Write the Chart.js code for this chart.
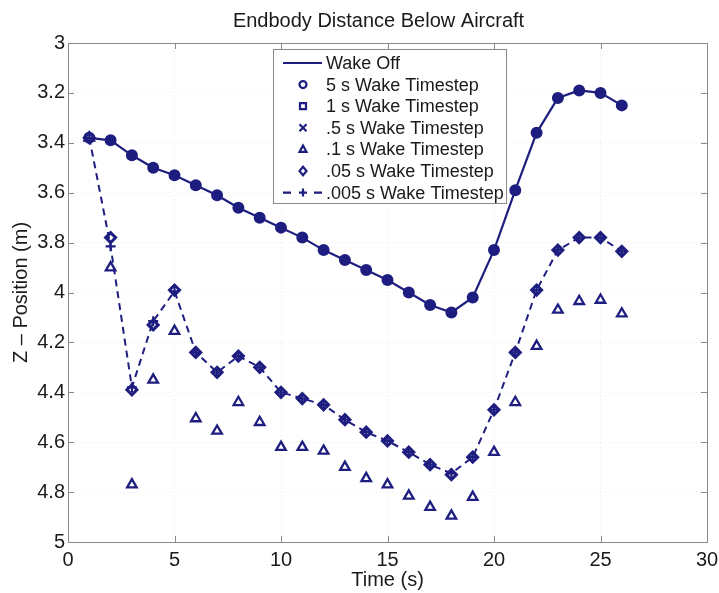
<!DOCTYPE html>
<html>
<head>
<meta charset="utf-8">
<script src="https://cdn.jsdelivr.net/npm/chart.js@4/dist/chart.umd.min.js"></script>
<style>
  html, body { margin: 0; padding: 0; background: #fff; }
  #wrap { width: 719px; height: 593px; }
</style>
</head>
<body>
<div id="wrap"><canvas id="chart" width="719" height="593"></canvas></div>
<script>
// time steps (s)
const timeS = [1, 2, 3, 4, 5, 6, 7, 8, 9, 10, 11, 12, 13, 14, 15, 16, 17, 18, 19, 20, 21, 22, 23, 24, 25, 26];

// Z position (m)
// Wake Off; the 5 s / 1 s / .5 s markers sit on this same curve
const wakeOffZ = [3.38, 3.39, 3.45, 3.50, 3.53, 3.57, 3.61, 3.66, 3.70, 3.74, 3.78, 3.83, 3.87,
                  3.91, 3.95, 4.00, 4.05, 4.08, 4.02, 3.83, 3.59, 3.36, 3.22, 3.19, 3.20, 3.25];
const wake01Z = [3.38, 3.90, 4.77, 4.35, 4.155, 4.505, 4.555, 4.44, 4.52, 4.62, 4.62, 4.635, 4.70,
                 4.745, 4.77, 4.815, 4.86, 4.895, 4.82, 4.64, 4.44, 4.215, 4.07, 4.035, 4.03, 4.085];
const wake005Z = [3.38, 3.78, 4.39, 4.13, 3.99, 4.24, 4.32, 4.255, 4.30, 4.40, 4.425, 4.45, 4.51,
                  4.56, 4.595, 4.64, 4.69, 4.73, 4.66, 4.47, 4.24, 3.99, 3.83, 3.78, 3.78, 3.835];
const wake0005Z = [3.38, 3.815, 4.38, 4.115, 3.995, 4.24, 4.32, 4.255, 4.30, 4.40, 4.425, 4.45, 4.51,
                   4.56, 4.595, 4.64, 4.69, 4.725, 4.66, 4.47, 4.24, 3.99, 3.83, 3.78, 3.78, 3.835];

const xTicks = [0, 5, 10, 15, 20, 25, 30];
const yTicks = [3, 3.2, 3.4, 3.6, 3.8, 4, 4.2, 4.4, 4.6, 4.8, 5];

const legendLabels = ["Wake Off", "5 s Wake Timestep", "1 s Wake Timestep", ".5 s Wake Timestep",
                      ".1 s Wake Timestep", ".05 s Wake Timestep", ".005 s Wake Timestep"];

const NAVY = "#1e1e80";
const pts = arr => arr.map((v, i) => ({ x: timeS[i], y: v }));

Chart.defaults.font.family = "'Liberation Sans', Arial, sans-serif";
Chart.defaults.color = "#1a1a1a";

// small marker drawer for the legend
function marker(ctx, style, x, y, r) {
    ctx.beginPath();
    if (style === "circle") {
        ctx.arc(x, y, r, 0, Math.PI * 2);
        ctx.fill(); ctx.stroke();
    } else if (style === "rect") {
        ctx.rect(x - r, y - r, 2 * r, 2 * r);
        ctx.fill(); ctx.stroke();
    } else if (style === "crossRot") {
        ctx.moveTo(x - r, y - r); ctx.lineTo(x + r, y + r);
        ctx.moveTo(x + r, y - r); ctx.lineTo(x - r, y + r);
        ctx.stroke();
    } else if (style === "triangle") {
        ctx.moveTo(x, y - r * 1.1); ctx.lineTo(x + r, y + r * 0.7); ctx.lineTo(x - r, y + r * 0.7);
        ctx.closePath(); ctx.fill(); ctx.stroke();
    } else if (style === "rectRot") {
        ctx.moveTo(x, y - r * 1.2); ctx.lineTo(x + r, y); ctx.lineTo(x, y + r * 1.2); ctx.lineTo(x - r, y);
        ctx.closePath(); ctx.fill(); ctx.stroke();
    } else if (style === "cross") {
        ctx.moveTo(x - r, y); ctx.lineTo(x + r, y);
        ctx.moveTo(x, y - r); ctx.lineTo(x, y + r);
        ctx.stroke();
    }
}

const frameAndLegend = {
    id: "frameAndLegend",
    afterLayout(chart) {
        // MATLAB centres the title over the axes rather than the whole figure
        const tb = chart.titleBlock, a = chart.chartArea;
        if (tb) { tb.left = a.left - 18; tb.right = a.right; }
    },
    beforeDatasetsDraw(chart) {
        const { ctx, chartArea: a, scales: { x, y } } = chart;
        ctx.save();
        ctx.strokeStyle = "#8a8a8a";
        ctx.lineWidth = 1;
        ctx.strokeRect(Math.round(a.left) + 0.5, Math.round(a.top) + 0.5, Math.round(a.width), Math.round(a.height));
        ctx.beginPath();
        x.ticks.forEach(t => {
            const px = Math.round(x.getPixelForValue(t.value)) + 0.5;
            ctx.moveTo(px, a.bottom); ctx.lineTo(px, a.bottom - 6);
            ctx.moveTo(px, a.top); ctx.lineTo(px, a.top + 6);
        });
        y.ticks.forEach(t => {
            const py = Math.round(y.getPixelForValue(t.value)) + 0.5;
            ctx.moveTo(a.left, py); ctx.lineTo(a.left + 6, py);
            ctx.moveTo(a.right, py); ctx.lineTo(a.right - 6, py);
        });
        ctx.stroke();
        ctx.restore();
    },
    afterDraw(chart) {
        const { ctx, chartArea: a } = chart;
        const left = a.left + 205, top = a.top + 6, w = 233, h = 154;
        ctx.save();
        ctx.fillStyle = "#fff";
        ctx.fillRect(left, top, w, h);
        ctx.strokeStyle = "#8a8a8a";
        ctx.lineWidth = 1;
        ctx.strokeRect(left + 0.5, top + 0.5, w, h);

        const styles = [null, "circle", "rect", "crossRot", "triangle", "rectRot", "cross"];
        ctx.font = "18px 'Liberation Sans', Arial, sans-serif";
        ctx.textBaseline = "middle";
        legendLabels.forEach((lab, i) => {
            const yy = top + 14 + i * 21.6;
            const mx = left + 30;
            ctx.strokeStyle = NAVY;
            ctx.fillStyle = "#fff";
            ctx.lineWidth = 2.2;
            if (i === 0) {
                ctx.beginPath(); ctx.moveTo(left + 10, yy); ctx.lineTo(left + 49, yy); ctx.stroke();
            } else if (i === 6) {
                ctx.beginPath();
                ctx.moveTo(left + 10, yy); ctx.lineTo(left + 18, yy);
                ctx.moveTo(left + 41, yy); ctx.lineTo(left + 49, yy);
                ctx.stroke();
                marker(ctx, "cross", mx, yy, 4);
            } else {
                marker(ctx, styles[i], mx, yy, styles[i] === "rect" ? 3 : 3.5);
            }
            ctx.fillStyle = "#1a1a1a";
            ctx.fillText(lab, left + 53, yy + 1);
        });
        ctx.restore();
    }
};

new Chart(document.getElementById("chart"), {
    type: "line",
    data: {
        datasets: [
            { label: legendLabels[6], data: pts(wake0005Z), borderColor: NAVY, borderWidth: 2, borderDash: [7, 5],
              pointStyle: "cross", pointRadius: 5, pointBorderWidth: 2.2, order: 1 },
            { label: legendLabels[5], data: pts(wake005Z), showLine: false, borderColor: NAVY, backgroundColor: "#fff",
              pointStyle: "rectRot", pointRadius: 5, pointBorderWidth: 3, order: 2 },
            { label: legendLabels[4], data: pts(wake01Z), showLine: false, borderColor: NAVY, backgroundColor: "#fff",
              pointStyle: "triangle", pointRadius: 5.5, pointBorderWidth: 2.3, order: 3 },
            { label: legendLabels[3], data: pts(wakeOffZ), showLine: false, borderColor: NAVY,
              pointStyle: "crossRot", pointRadius: 4, pointBorderWidth: 2, order: 4 },
            { label: legendLabels[2], data: pts(wakeOffZ), showLine: false, borderColor: NAVY, backgroundColor: NAVY,
              pointStyle: "rect", pointRadius: 4.5, pointBorderWidth: 2, order: 5 },
            { label: legendLabels[1], data: pts(wakeOffZ), showLine: false, borderColor: NAVY, backgroundColor: NAVY,
              pointStyle: "circle", pointRadius: 5, pointBorderWidth: 2, order: 6 },
            { label: legendLabels[0], data: pts(wakeOffZ), borderColor: NAVY, borderWidth: 2.2,
              pointRadius: 0, order: 7 }
        ]
    },
    options: {
        responsive: false,
        animation: false,
        layout: { padding: { left: 0, right: 0, top: 0, bottom: 0 } },
        plugins: {
            legend: { display: false },
            tooltip: { enabled: false },
            title: {
                display: true,
                text: "Endbody Distance Below Aircraft",
                font: { size: 20, weight: "normal" },
                color: "#1a1a1a",
                padding: { top: 9, bottom: 10 }
            }
        },
        scales: {
            x: {
                type: "linear",
                min: xTicks[0], max: xTicks[xTicks.length - 1],
                afterBuildTicks: s => { s.ticks = xTicks.map(v => ({ value: v })); },
                afterFit: s => { s.height = 51; s.paddingRight = 12; s.paddingLeft = 0; },
                ticks: { font: { size: 20 }, padding: 6, maxRotation: 0 },
                grid: { color: "#ececec", drawTicks: false },
                border: { display: false, dash: [1, 3] },
                title: { display: true, text: "Time (s)", font: { size: 20 }, padding: { top: 0, bottom: 1 } }
            },
            y: {
                type: "linear",
                reverse: true,
                min: yTicks[0], max: yTicks[yTicks.length - 1],
                afterBuildTicks: s => { s.ticks = yTicks.map(v => ({ value: v })); },
                afterFit: s => { s.width = 68; s.paddingTop = 0; s.paddingBottom = 0; },
                ticks: { font: { size: 20 }, padding: 3, callback: v => String(+v.toFixed(1)) },
                grid: { color: "#ececec", drawTicks: false },
                border: { display: false, dash: [1, 3] },
                title: { display: true, text: "Z – Position (m)", font: { size: 20 }, padding: { top: 9, bottom: 0 } }
            }
        }
    },
    plugins: [frameAndLegend]
});
</script>
</body>
</html>
